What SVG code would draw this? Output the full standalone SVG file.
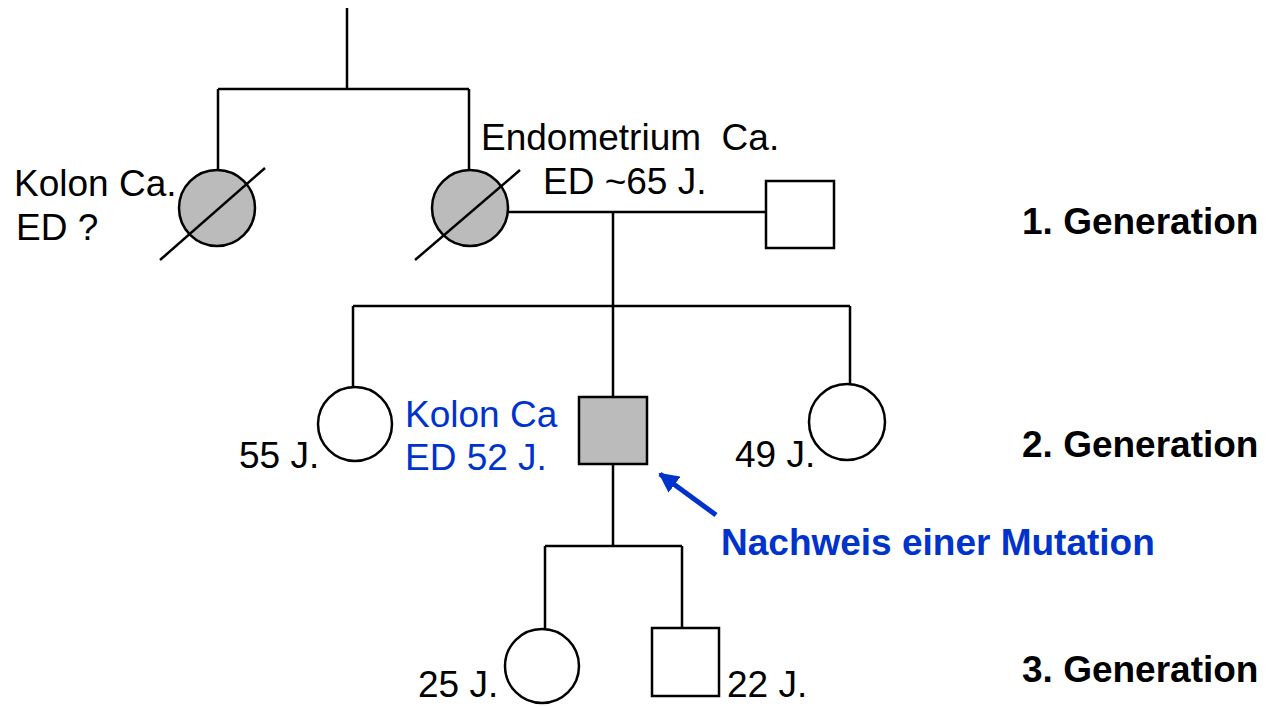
<svg xmlns="http://www.w3.org/2000/svg" width="1276" height="707" viewBox="0 0 1276 707">
<style>
.ln{stroke:#000;stroke-width:2.5;fill:none}
.sh{stroke:#000;stroke-width:2.5}
.aff{fill:#bbbbbb}
.un{fill:#fff}
.t{font-family:"Liberation Sans",Arial,sans-serif;font-size:37px;fill:#000}
.b{font-weight:bold}
.blue{fill:#0033cc}
</style>
<defs>
<marker id="ah" viewBox="0 0 10 10" refX="9" refY="5" markerWidth="4" markerHeight="4" orient="auto" markerUnits="strokeWidth">
<path d="M0,0 L10,5 L0,10 Z" fill="#0033cc"/>
</marker>
</defs>
<rect width="1276" height="707" fill="#fff"/>
<g id="connectors">
<path class="ln" d="M347,8 V89 M218,89 H469 M218,89 V170 M469,89 V170"/>
<path class="ln" d="M508,212 H766 M613,212 V306 M353,306 H850 M353,306 V387 M613,306 V397 M850,306 V384"/>
<path class="ln" d="M613,464 V546 M545,546 H682 M545,546 V629 M682,546 V628"/>
<line x1="716" y1="515" x2="660" y2="474" stroke="#0033cc" stroke-width="5" marker-end="url(#ah)"/>
</g>
<g id="gen1-left">
<circle class="sh aff" cx="217" cy="208" r="38"/>
<line class="ln" x1="160" y1="260" x2="265" y2="168"/>
<text class="t" x="14" y="196">Kolon Ca.</text>
<text class="t" x="16" y="240">ED ?</text>
</g>
<g id="gen1-mid">
<circle class="sh aff" cx="470" cy="208" r="38"/>
<line class="ln" x1="415" y1="260" x2="520" y2="170"/>
<text class="t" x="481" y="150" xml:space="preserve">Endometrium  Ca.</text>
<text class="t" x="543" y="194">ED ~65 J.</text>
</g>
<g id="gen1-male">
<rect class="sh un" x="766" y="181" width="68" height="67"/>
</g>
<g id="gen2-55">
<circle class="sh un" cx="355" cy="424" r="37"/>
<text class="t" x="239" y="468">55 J.</text>
</g>
<g id="gen2-index">
<rect class="sh aff" x="579" y="397" width="68" height="67"/>
<text class="t blue" x="405" y="427">Kolon Ca</text>
<text class="t blue" x="405" y="470">ED 52 J.</text>
</g>
<g id="gen2-49">
<circle class="sh un" cx="847" cy="422" r="38"/>
<text class="t" x="735" y="467">49 J.</text>
</g>
<g id="gen3-25">
<circle class="sh un" cx="542" cy="666" r="37"/>
<text class="t" x="418" y="697">25 J.</text>
</g>
<g id="gen3-22">
<rect class="sh un" x="652" y="628" width="67" height="68"/>
<text class="t" x="727" y="697">22 J.</text>
</g>
<g id="labels">
<text class="t b blue" x="721" y="555">Nachweis einer Mutation</text>
<text class="t b" x="1022" y="234">1. Generation</text>
<text class="t b" x="1022" y="457">2. Generation</text>
<text class="t b" x="1022" y="682">3. Generation</text>
</g>
</svg>
